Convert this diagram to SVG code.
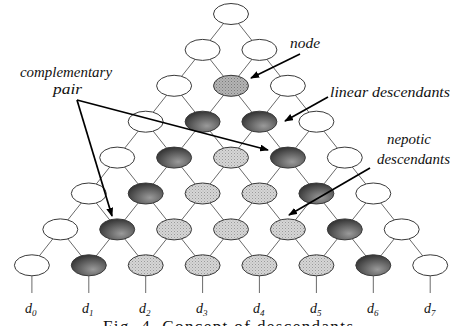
<svg xmlns="http://www.w3.org/2000/svg" width="454" height="326" viewBox="0 0 454 326">
<style>
.e{stroke:#3a3a3a;stroke-width:1}
.w{fill:#fff}
.n{fill:url(#pNep)}
.g{fill:url(#pNode)}
.k{fill:url(#gDark)}
.c{stroke:#6a6a6a;stroke-width:1;fill:none}
.a{stroke:#000;stroke-width:1.7;fill:none;marker-end:url(#ah)}
.t{font-family:"Liberation Serif",serif;font-style:italic;font-size:15px;fill:#111}
.d{font-family:"Liberation Serif",serif;font-style:italic;font-size:14px;fill:#111}
.s{font-size:9px}
.cap{font-family:"Liberation Serif",serif;font-size:17px;fill:#111}
</style>
<defs>
<pattern id="pNep" width="3" height="3" patternUnits="userSpaceOnUse">
<rect width="3" height="3" fill="#d6d6d6"/>
<rect x="0" y="0" width="1" height="1" fill="#9a9a9a"/>
<rect x="1.5" y="1.5" width="1" height="1" fill="#b0b0b0"/>
</pattern>
<pattern id="pNode" width="3" height="3" patternUnits="userSpaceOnUse">
<rect width="3" height="3" fill="#b4b4b4"/>
<rect x="0" y="0" width="1" height="1" fill="#7a7a7a"/>
<rect x="1.5" y="1.5" width="1" height="1" fill="#8c8c8c"/>
</pattern>
<radialGradient id="gDark" cx="0.62" cy="0.7" r="0.75">
<stop offset="0" stop-color="#9a9a9a"/>
<stop offset="1" stop-color="#2e2e2e"/>
</radialGradient>
<marker id="ah" markerWidth="9" markerHeight="7" refX="8" refY="3.5" orient="auto" markerUnits="userSpaceOnUse">
<path d="M0,0 L9,3.5 L0,7 Z" fill="#000"/>
</marker>
</defs>

<g id="connectors">
<path class="c" d="M231,14 L202.6,49.9 M231,14 L259.4,49.9
M202.6,49.9 L174.1,85.8 M202.6,49.9 L231,85.8 M259.4,49.9 L231,85.8 M259.4,49.9 L287.9,85.8
M174.1,85.8 L145.7,121.7 M174.1,85.8 L202.6,121.7 M231,85.8 L202.6,121.7 M231,85.8 L259.4,121.7 M287.9,85.8 L259.4,121.7 M287.9,85.8 L316.4,121.7
M145.7,121.7 L117.2,157.6 M145.7,121.7 L174.1,157.6 M202.6,121.7 L174.1,157.6 M202.6,121.7 L231,157.6 M259.4,121.7 L231,157.6 M259.4,121.7 L287.9,157.6 M316.4,121.7 L287.9,157.6 M316.4,121.7 L344.8,157.6
M117.2,157.6 L88.8,193.5 M117.2,157.6 L145.7,193.5 M174.1,157.6 L145.7,193.5 M174.1,157.6 L202.6,193.5 M231,157.6 L202.6,193.5 M231,157.6 L259.4,193.5 M287.9,157.6 L259.4,193.5 M287.9,157.6 L316.4,193.5 M344.8,157.6 L316.4,193.5 M344.8,157.6 L373.3,193.5
M88.8,193.5 L60.3,229.4 M88.8,193.5 L117.2,229.4 M145.7,193.5 L117.2,229.4 M145.7,193.5 L174.1,229.4 M202.6,193.5 L174.1,229.4 M202.6,193.5 L231,229.4 M259.4,193.5 L231,229.4 M259.4,193.5 L287.9,229.4 M316.4,193.5 L287.9,229.4 M316.4,193.5 L344.8,229.4 M373.3,193.5 L344.8,229.4 M373.3,193.5 L401.7,229.4
M60.3,229.4 L31.9,265.3 M60.3,229.4 L88.8,265.3 M117.2,229.4 L88.8,265.3 M117.2,229.4 L145.7,265.3 M174.1,229.4 L145.7,265.3 M174.1,229.4 L202.6,265.3 M231,229.4 L202.6,265.3 M231,229.4 L259.4,265.3 M287.9,229.4 L259.4,265.3 M287.9,229.4 L316.4,265.3 M344.8,229.4 L316.4,265.3 M344.8,229.4 L373.3,265.3 M401.7,229.4 L373.3,265.3 M401.7,229.4 L430.2,265.3
M31.9,276 V293 M88.8,276 V293 M145.7,276 V293 M202.6,276 V293 M259.4,276 V293 M316.4,276 V293 M373.3,276 V293 M430.2,276 V293"/>
</g>

<g id="n0-0"><ellipse class="e w" cx="231" cy="14" rx="17.5" ry="10.5"/></g>
<g id="n1-0"><ellipse class="e w" cx="202.6" cy="49.9" rx="17.5" ry="10.5"/></g>
<g id="n1-1"><ellipse class="e w" cx="259.4" cy="49.9" rx="17.5" ry="10.5"/></g>
<g id="n2-0"><ellipse class="e w" cx="174.1" cy="85.8" rx="17.5" ry="10.5"/></g>
<g id="n2-1"><ellipse class="e g" cx="231" cy="85.8" rx="17.5" ry="10.5"/></g>
<g id="n2-2"><ellipse class="e w" cx="287.9" cy="85.8" rx="17.5" ry="10.5"/></g>
<g id="n3-0"><ellipse class="e w" cx="145.7" cy="121.7" rx="17.5" ry="10.5"/></g>
<g id="n3-1"><ellipse class="e k" cx="202.6" cy="121.7" rx="17.5" ry="10.5"/></g>
<g id="n3-2"><ellipse class="e k" cx="259.4" cy="121.7" rx="17.5" ry="10.5"/></g>
<g id="n3-3"><ellipse class="e w" cx="316.4" cy="121.7" rx="17.5" ry="10.5"/></g>
<g id="n4-0"><ellipse class="e w" cx="117.2" cy="157.6" rx="17.5" ry="10.5"/></g>
<g id="n4-1"><ellipse class="e k" cx="174.1" cy="157.6" rx="17.5" ry="10.5"/></g>
<g id="n4-2"><ellipse class="e n" cx="231" cy="157.6" rx="17.5" ry="10.5"/></g>
<g id="n4-3"><ellipse class="e k" cx="287.9" cy="157.6" rx="17.5" ry="10.5"/></g>
<g id="n4-4"><ellipse class="e w" cx="344.8" cy="157.6" rx="17.5" ry="10.5"/></g>
<g id="n5-0"><ellipse class="e w" cx="88.8" cy="193.5" rx="17.5" ry="10.5"/></g>
<g id="n5-1"><ellipse class="e k" cx="145.7" cy="193.5" rx="17.5" ry="10.5"/></g>
<g id="n5-2"><ellipse class="e n" cx="202.6" cy="193.5" rx="17.5" ry="10.5"/></g>
<g id="n5-3"><ellipse class="e n" cx="259.4" cy="193.5" rx="17.5" ry="10.5"/></g>
<g id="n5-4"><ellipse class="e k" cx="316.4" cy="193.5" rx="17.5" ry="10.5"/></g>
<g id="n5-5"><ellipse class="e w" cx="373.3" cy="193.5" rx="17.5" ry="10.5"/></g>
<g id="n6-0"><ellipse class="e w" cx="60.3" cy="229.4" rx="17.5" ry="10.5"/></g>
<g id="n6-1"><ellipse class="e k" cx="117.2" cy="229.4" rx="17.5" ry="10.5"/></g>
<g id="n6-2"><ellipse class="e n" cx="174.1" cy="229.4" rx="17.5" ry="10.5"/></g>
<g id="n6-3"><ellipse class="e n" cx="231" cy="229.4" rx="17.5" ry="10.5"/></g>
<g id="n6-4"><ellipse class="e n" cx="287.9" cy="229.4" rx="17.5" ry="10.5"/></g>
<g id="n6-5"><ellipse class="e k" cx="344.8" cy="229.4" rx="17.5" ry="10.5"/></g>
<g id="n6-6"><ellipse class="e w" cx="401.7" cy="229.4" rx="17.5" ry="10.5"/></g>
<g id="n7-0"><ellipse class="e w" cx="31.9" cy="265.3" rx="17.5" ry="10.5"/></g>
<g id="n7-1"><ellipse class="e k" cx="88.8" cy="265.3" rx="17.5" ry="10.5"/></g>
<g id="n7-2"><ellipse class="e n" cx="145.7" cy="265.3" rx="17.5" ry="10.5"/></g>
<g id="n7-3"><ellipse class="e n" cx="202.6" cy="265.3" rx="17.5" ry="10.5"/></g>
<g id="n7-4"><ellipse class="e n" cx="259.4" cy="265.3" rx="17.5" ry="10.5"/></g>
<g id="n7-5"><ellipse class="e n" cx="316.4" cy="265.3" rx="17.5" ry="10.5"/></g>
<g id="n7-6"><ellipse class="e k" cx="373.3" cy="265.3" rx="17.5" ry="10.5"/></g>
<g id="n7-7"><ellipse class="e w" cx="430.2" cy="265.3" rx="17.5" ry="10.5"/></g>

<g id="labels-d">
<text class="d" x="25" y="313">d<tspan class="s" dy="3">0</tspan></text>
<text class="d" x="82" y="313">d<tspan class="s" dy="3">1</tspan></text>
<text class="d" x="139" y="313">d<tspan class="s" dy="3">2</tspan></text>
<text class="d" x="196" y="313">d<tspan class="s" dy="3">3</tspan></text>
<text class="d" x="253" y="313">d<tspan class="s" dy="3">4</tspan></text>
<text class="d" x="310" y="313">d<tspan class="s" dy="3">5</tspan></text>
<text class="d" x="367" y="313">d<tspan class="s" dy="3">6</tspan></text>
<text class="d" x="424" y="313">d<tspan class="s" dy="3">7</tspan></text>
</g>

<g id="annotations">
<text class="t" x="290" y="48" textLength="30" lengthAdjust="spacingAndGlyphs">node</text>
<path class="a" d="M300,54 L251,78"/>
<text class="t" x="330" y="97" textLength="120" lengthAdjust="spacingAndGlyphs">linear descendants</text>
<path class="a" d="M328,97 L285,121"/>
<text class="t" x="387" y="144" textLength="44" lengthAdjust="spacingAndGlyphs">nepotic</text>
<text class="t" x="377" y="164" textLength="73" lengthAdjust="spacingAndGlyphs">descendants</text>
<path class="a" d="M370,168 L289,215"/>
<text class="t" x="20" y="77" textLength="92" lengthAdjust="spacingAndGlyphs">complementary</text>
<text class="t" x="53" y="94" textLength="29" lengthAdjust="spacingAndGlyphs">pair</text>
<path class="a" d="M77,100 L268,150"/>
<path class="a" d="M77,100 L112,216"/>
</g>

<text class="cap" x="103" y="332" textLength="250">Fig. 4. Concept of descendants</text>
</svg>
